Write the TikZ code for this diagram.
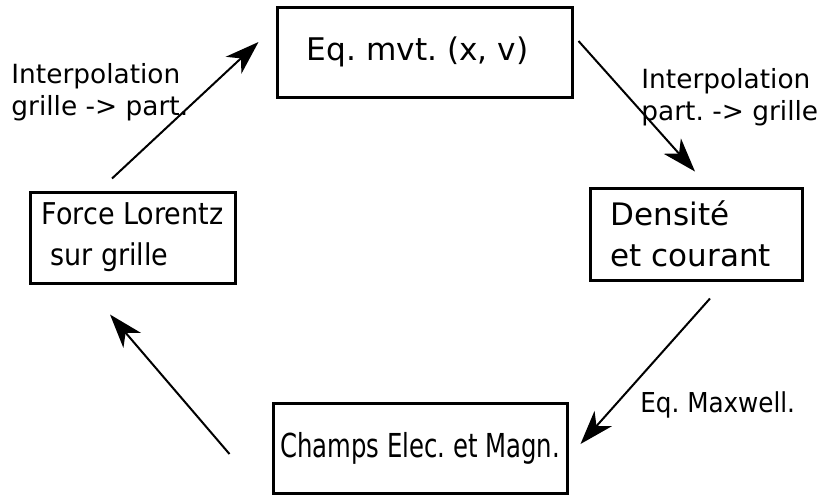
\documentclass[tikz,border=0pt]{standalone}
\usepackage{fontspec}
\setmainfont{DejaVu Sans}
\newfontfamily\condfont{DejaVu Sans Condensed}
\newfontfamily\narrowfont[FakeStretch=0.82]{DejaVu Sans Condensed}
\frenchspacing
\usetikzlibrary{arrows.meta}
\tikzset{> = {Stealth[length=17pt,width=11.5pt,inset=5pt]}}
\tikzset{box/.style={draw,line width=1.5pt,inner sep=0pt,align=left},
	flow/.style={->,line width=1pt},
	lbl/.style={inner sep=0pt,anchor=base west,align=left}}

\begin{document}
\begin{tikzpicture}[x=0.5pt,y=-0.5pt]
	\useasboundingbox (0,0) rectangle (819,495);
	%the four steps of the cycle
	\node[box,minimum width=147.5pt,minimum height=45pt,font=\fontsize{15.6}{20}\selectfont] (eq) at (424.5,52){Eq. mvt. (x, v)\hspace*{7pt}};
	\node[box,minimum width=106pt,minimum height=46pt,font=\fontsize{15.5}{20.5}\selectfont] (dens) at (696,234){Densit\'e\\et courant\hspace*{5pt}};
	\node[box,minimum width=147pt,minimum height=45pt,font=\narrowfont\fontsize{16.5}{20}\selectfont] (champs) at (420,448){Champs Elec. et Magn.};
	\node[box,minimum width=102.5pt,minimum height=45.5pt,font=\condfont\fontsize{15}{20.5}\selectfont] (force) at (132.5,237.5){Force Lorentz\\ \ sur grille};
	%base anchor of the labels sits on their last line
	\node[lbl,font=\fontsize{13.2}{15.8}\selectfont] (interpA) at (11,115){Interpolation\\grille -> part.};
	\node[lbl,font=\fontsize{13.2}{15.8}\selectfont] (interpB) at (641,120){Interpolation\\part. -> grille};
	\node[lbl,font=\condfont\fontsize{13.7}{16}\selectfont] (maxw) at (640,412){Eq. Maxwell.};
	\draw[flow] ([shift={(-20.5,-12)}]force.north)--([shift={(-17,-10)}]eq.west);
	\draw[flow] ([shift={(5,-11)}]eq.east)--([shift={(-1,-15)}]dens.north);
	\draw[flow] ([shift={(14,17)}]dens.south)--([shift={(12,-4)}]champs.east);
	\draw[flow] ([shift={(-42,6)}]champs.west)--([shift={(-22.5,30)}]force.south);
\end{tikzpicture}
\end{document}
